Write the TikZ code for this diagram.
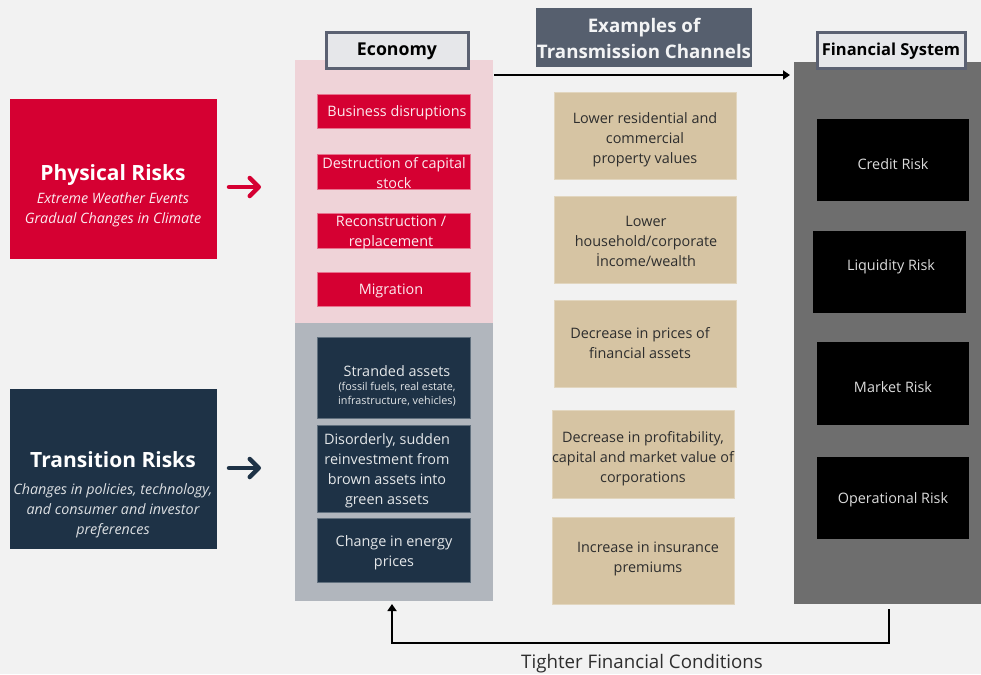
\documentclass[tikz,border=0pt]{standalone}
\usepackage{fontspec}
\setmainfont{Open Sans}
\usetikzlibrary{arrows.meta}
\definecolor{bg}{HTML}{F2F2F2}
\definecolor{cred}{HTML}{D50032}
\definecolor{cnavy}{HTML}{1E3246}
\definecolor{cpink}{HTML}{EFD3D8}
\definecolor{cgrey}{HTML}{B1B6BD}
\definecolor{ctan}{HTML}{D6C4A3}
\definecolor{cdark}{HTML}{6E6E6E}
\definecolor{clab}{HTML}{E6E7EA}
\definecolor{clabborder}{HTML}{5B6172}
\definecolor{cexam}{HTML}{565F6E}
\definecolor{ctext}{HTML}{2E2E2E}
\begin{document}
\begin{tikzpicture}[x=1pt,y=-1pt,
  panel/.style={draw=none, anchor=north west, inner sep=0pt, outer sep=0pt},
  txt/.style={align=center, inner sep=0pt, font=\fontsize{14.4}{20}\selectfont},
  redbox/.style={panel, fill=cred, draw=cred!55!white, line width=0.6pt},
  navybox/.style={panel, fill=cnavy, draw=cnavy!70!white, line width=0.6pt},
  tanbox/.style={panel, fill=ctan, draw=ctan!70!white, line width=0.6pt},
  blackbox/.style={panel, fill=black},
  headlab/.style={draw=clabborder, fill=clab, line width=3pt, inner sep=0pt, font=\bfseries},
  riskarrow/.style={line width=4.5pt, line cap=round, -{Straight Barb[length=9pt,width=18pt,round]}},
]
\fill[bg] (0,0) rectangle (981,674);
\useasboundingbox (0,0) rectangle (981,674);

% ---------- left risk boxes ----------
\node[panel, fill=cred, minimum width=207pt, minimum height=160pt] (phys) at (10,99) {};
\node[txt, text=white, font=\bfseries\fontsize{21}{24}\selectfont] (physT) at (113,175) {Physical Risks};
\node[txt, text=white!92!cred, font=\itshape\fontsize{14.3}{20}\selectfont] (physS) at (113,210) {Extreme Weather Events\\Gradual Changes in Climate};

\node[panel, fill=cnavy, minimum width=207pt, minimum height=160pt] (trans) at (10,389) {};
\node[txt, text=white, font=\bfseries\fontsize{21}{24}\selectfont] (transT) at (113,460) {Transition Risks};
\node[txt, text=white!85!cnavy, font=\itshape\fontsize{14.3}{20}\selectfont] (transS) at (113,511) {Changes in policies, technology,\\and consumer and investor\\preferences};

% ---------- economy column ----------
\node[panel, fill=cpink, minimum width=198pt, minimum height=263pt] (econP) at (295,60) {};
\node[panel, fill=cgrey, minimum width=198pt, minimum height=278pt] (econT) at (295,323) {};
\node[headlab, minimum width=142pt, minimum height=36pt, font=\bfseries\fontsize{17.7}{20}\selectfont] (econL) at (397,51) {Economy};

\node[redbox, minimum width=153pt, minimum height=34pt] (r1) at (317,94) {};
\node[redbox, minimum width=153pt, minimum height=35pt] (r2) at (317,154) {};
\node[redbox, minimum width=153pt, minimum height=35pt] (r3) at (317,213) {};
\node[redbox, minimum width=153pt, minimum height=34pt] (r4) at (317,272) {};
\node[txt, text=white!92!cred] (r1t) at (397,113) {Business disruptions};
\node[txt, text=white!92!cred] (r2t) at (394,173) {Destruction of capital\\stock};
\node[txt, text=white!92!cred] (r3t) at (391,233) {Reconstruction /\\replacement};
\node[txt, text=white!92!cred] (r4t) at (391,291) {Migration};

\node[navybox, minimum width=153pt, minimum height=81pt] (n1) at (317,337) {};
\node[navybox, minimum width=153pt, minimum height=87pt] (n2) at (317,425) {};
\node[navybox, minimum width=153pt, minimum height=64pt] (n3) at (317,518) {};
\node[txt, text=white!88!cnavy] (n1t) at (397,371) {Stranded assets};
\node[txt, text=white!88!cnavy, font=\fontsize{10.8}{14.5}\selectfont] (n1s) at (397,394) {(fossil fuels, real estate,\\infrastructure, vehicles)};
\node[txt, text=white!88!cnavy] (n2t) at (387,471) {Disorderly, sudden\\reinvestment from\\brown assets into\\green assets};
\node[txt, text=white!88!cnavy] (n3t) at (394,553) {Change in energy\\prices};

% ---------- transmission channels ----------
\node[panel, fill=cexam, minimum width=216pt, minimum height=59pt] (exam) at (536,8) {};
\node[txt, text=white!93!cexam, font=\bfseries\fontsize{18.7}{26}\selectfont] (examT) at (644,38) {Examples of\\Transmission Channels};

\node[tanbox, minimum width=182pt, minimum height=87pt] (t1) at (554,92) {};
\node[tanbox, minimum width=182pt, minimum height=87pt] (t2) at (554,196) {};
\node[tanbox, minimum width=182pt, minimum height=87pt] (t3) at (554,300) {};
\node[tanbox, minimum width=182pt, minimum height=88pt] (t4) at (552,410) {};
\node[tanbox, minimum width=182pt, minimum height=87pt] (t5) at (552,517) {};
\node[txt, text=ctext] (t1t) at (645,140) {Lower residential and\\commercial\\property values};
\node[txt, text=ctext] (t2t) at (646,241) {Lower\\household/corporate\\İncome/wealth};
\node[txt, text=ctext] (t3t) at (640,343) {Decrease in prices of\\financial assets};
\node[txt, text=ctext] (t4t) at (643,459) {Decrease in profitability,\\capital and market value of\\corporations};
\node[txt, text=ctext] (t5t) at (648,559) {Increase in insurance\\premiums};

% ---------- financial system ----------
\node[panel, fill=cdark, minimum width=187pt, minimum height=542pt] (fin) at (794,62) {};
\node[headlab, minimum width=148pt, minimum height=36pt, font=\bfseries\fontsize{16.5}{20}\selectfont] (finL) at (891,51) {Financial System};
\node[blackbox, minimum width=152pt, minimum height=82pt] (b1) at (817,119) {};
\node[blackbox, minimum width=153pt, minimum height=82pt] (b2) at (813,231) {};
\node[blackbox, minimum width=152pt, minimum height=83pt] (b3) at (817,342) {};
\node[blackbox, minimum width=152pt, minimum height=82pt] (b4) at (817,457) {};
\node[txt, text=white!86!black] (b1t) at (893,164) {Credit Risk};
\node[txt, text=white!86!black] (b2t) at (891,267) {Liquidity Risk};
\node[txt, text=white!86!black] (b3t) at (893,387) {Market Risk};
\node[txt, text=white!86!black] (b4t) at (893,500) {Operational Risk};

% ---------- arrows ----------
\coordinate (pa1) at (229,187);
\coordinate (pa2) at (261,187);
\coordinate (ta1) at (229,468);
\coordinate (ta2) at (261,468);
\draw[riskarrow, cred] (pa1) -- (pa2);
\draw[riskarrow, cnavy] (ta1) -- (ta2);

\coordinate (top1) at (494,75);
\coordinate (top2) at (790,75);
\draw[line width=2.4pt, -{Triangle[length=7pt,width=9pt]}] (top1) -- (top2);

\coordinate (bot1) at (889,609);
\coordinate (bot2) at (889,643);
\coordinate (bot3) at (392,643);
\coordinate (bot4) at (392,604);
\draw[line width=2.2pt, -{Triangle[length=7pt,width=9pt]}] (bot1) -- (bot2) -- (bot3) -- (bot4);
\node[txt, text=ctext, font=\fontsize{18.7}{22}\selectfont] (tight) at (642,664) {Tighter Financial Conditions};
\end{tikzpicture}
\end{document}
